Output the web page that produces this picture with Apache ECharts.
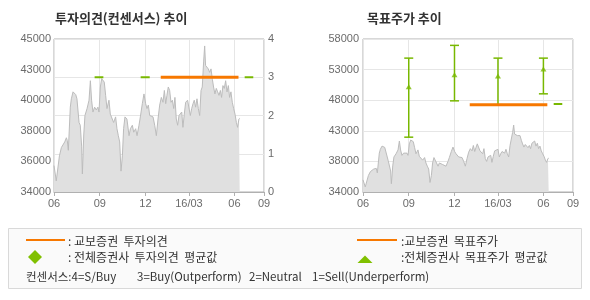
<!DOCTYPE html>
<html><head><meta charset="utf-8">
<script src="https://cdn.jsdelivr.net/npm/echarts@6/dist/echarts.min.js"></script>
<style>html,body{margin:0;padding:0;background:#fff}#c{width:590px;height:300px}</style>
</head><body><div id="c"></div>
<script>
// ---- data ----
const xTickValues = [0, 3.03, 6.06, 8.94, 11.95, 13.91];
const xTickLabels = ['06', '09', '12', '16/03', '06', '09'];
const leftYTickLabels = ['34000', '36000', '38000', '40000', '43000', '45000'];
const rightYTickLabels = ['34000', '38000', '43000', '48000', '53000', '58000'];
const opinionTickLabels = ['0', '1', '2', '3', '4'];

// stock price (x in months since 2015-06 on the chart axis)
const priceMonths = [0.00,0.08,0.15,0.27,0.36,0.49,0.60,0.71,0.82,0.88,0.95,1.04,1.08,1.15,1.26,1.37,1.44,1.52,1.66,1.74,1.83,1.88,1.97,2.05,2.19,2.32,2.41,2.49,2.58,2.69,2.80,2.91,2.98,3.07,3.16,3.25,3.33,3.42,3.51,3.64,3.73,3.86,3.95,4.08,4.17,4.26,4.35,4.44,4.53,4.61,4.70,4.83,4.97,5.06,5.19,5.28,5.41,5.50,5.63,5.72,5.85,5.96,6.07,6.16,6.25,6.34,6.45,6.56,6.67,6.78,6.89,7.00,7.11,7.22,7.31,7.40,7.48,7.57,7.66,7.75,7.84,7.93,8.01,8.10,8.19,8.28,8.37,8.46,8.54,8.63,8.72,8.85,8.94,9.03,9.12,9.21,9.29,9.38,9.47,9.56,9.65,9.74,9.82,9.91,9.98,10.04,10.13,10.22,10.31,10.40,10.49,10.57,10.66,10.75,10.84,10.93,11.02,11.10,11.19,11.28,11.37,11.46,11.55,11.63,11.72,11.81,11.90,11.99,12.08,12.16,12.25,12.30];
const priceValues = [35900,36000,34800,34700,36600,37200,37300,37600,37900,37700,37000,37100,40100,40700,41200,41200,41000,40700,39000,38800,37300,35300,38100,39500,40000,40600,42000,40600,39750,40100,39900,40100,39750,41550,42150,42250,41900,40950,40000,40600,39600,39500,39000,39400,38550,38050,37600,35500,36600,38550,39400,39250,38050,38550,38800,38300,38550,38050,38800,39400,40350,41050,40350,40000,40250,39500,39600,39400,38800,38050,39250,40250,40800,40450,41300,40350,40950,41550,41300,40450,40600,40000,40800,39250,38800,39500,39400,39750,38650,39600,40450,40600,40700,39500,40000,40350,40600,40100,40700,40000,39500,41300,41550,43350,44500,43100,43000,42850,42600,42850,42100,41550,41050,41450,41200,40950,41300,40800,41650,41450,42000,41200,41650,40800,41200,40450,40000,39600,39000,38650,39250,39300];

// 교보증권 투자의견 (opinion scale 0-4)
const kyoboOpinionStart = 7.07, kyoboOpinionEnd = 12.22, kyoboOpinion = 3;
// 전체증권사 투자의견 평균값 segments: [start, end, value]
const avgOpinionStart = [2.69, 5.74, 12.63];
const avgOpinionEnd = [3.27, 6.34, 13.20];
const avgOpinionValue = [3, 3, 3];

// 교보증권 목표주가
const kyoboTargetStart = 7.07, kyoboTargetEnd = 12.21, kyoboTarget = 47700;
// 전체증권사 목표주가: position, low, high, average
const targetX = [3.03, 6.06, 8.94, 11.95];
const targetLow = [42600, 48300, 47700, 49400];
const targetHigh = [55000, 57000, 55000, 55000];
const targetAvg = [50500, 52400, 52200, 53300];
// short average target mark on the right end
const lastAvgTargetStart = 12.63, lastAvgTargetEnd = 13.20, lastAvgTarget = 47800;

// legend footnote pieces
const footnoteParts = ['컨센서스:4=S/Buy', '3=Buy(Outperform)', '2=Neutral', '1=Sell(Underperform)'];
const footnoteX = [26, 137, 249, 312];

// ---- styling ----
const ORANGE = '#f77800';
const GREEN = '#78b800';
const GRID_LINE = '#e6e6e6';
const BORDER = '#b0b0b0';
const LABEL = '#6b6b6b';
const NUMFONT = 'Liberation Sans, Arial, sans-serif';
const KFONT = '"Noto Sans CJK KR", sans-serif';

const priceData = priceMonths.map((m, i) => [m, priceValues[i]]);
const avgOpinionData = avgOpinionStart.map((s, i) => [s, avgOpinionEnd[i], avgOpinionValue[i]]);
const errData = targetX.map((x, i) => [x, targetLow[i], targetHigh[i]]);
const avgTriData = targetX.map((x, i) => [x, targetAvg[i]]);

function xAxisCfg(gi) {
  return {
    type: 'value', gridIndex: gi, min: 0, max: xTickValues[xTickValues.length - 1],
    axisLine: { show: true, lineStyle: { color: BORDER } },
    axisTick: { show: true, length: 4, lineStyle: { color: BORDER }, customValues: xTickValues },
    axisLabel: {
      customValues: xTickValues, color: LABEL, fontSize: 11, fontFamily: NUMFONT, margin: 6,
      showMinLabel: true, showMaxLabel: true,
      formatter: v => { let i = 0, d = 1e9; xTickValues.forEach((t, k) => { if (Math.abs(t - v) < d) { d = Math.abs(t - v); i = k; } }); return xTickLabels[i]; }
    },
    splitLine: { show: true, lineStyle: { color: GRID_LINE } }
  };
}

function segItem(color, width) {
  return function (params, api) {
    const p0 = api.coord([api.value(0), api.value(2)]);
    const p1 = api.coord([api.value(1), api.value(2)]);
    return { type: 'line', shape: { x1: p0[0], y1: p0[1], x2: p1[0], y2: p1[1] }, style: { stroke: color, lineWidth: width } };
  };
}

function errItem(params, api) {
  const x = api.value(0);
  const lo = api.coord([x, api.value(1)]);
  const hi = api.coord([x, api.value(2)]);
  const hw = 4.5;
  const st = { stroke: GREEN, lineWidth: 1.5 };
  return { type: 'group', children: [
    { type: 'line', shape: { x1: lo[0], y1: lo[1], x2: hi[0], y2: hi[1] }, style: st },
    { type: 'line', shape: { x1: hi[0] - hw, y1: hi[1], x2: hi[0] + hw, y2: hi[1] }, style: st },
    { type: 'line', shape: { x1: lo[0] - hw, y1: lo[1], x2: lo[0] + hw, y2: lo[1] }, style: st }
  ]};
}

const chart = echarts.init(document.getElementById('c'), null, { renderer: 'canvas' });
const graphics = [
  { type: 'text', left: 55, top: 12, style: { text: '투자의견(컨센서스) 추이', font: 'bold 13px ' + KFONT, fill: '#333' } },
  { type: 'text', left: 367, top: 12, style: { text: '목표주가 추이', font: 'bold 13px ' + KFONT, fill: '#333' } },
  { type: 'rect', shape: { x: 8.5, y: 228.5, width: 573, height: 60 }, style: { fill: '#fafafa', stroke: '#d9d9d9', lineWidth: 1 } },
  { type: 'line', shape: { x1: 26, y1: 240, x2: 65, y2: 240 }, style: { stroke: ORANGE, lineWidth: 2 } },
  { type: 'text', x: 68, y: 241, style: { text: ': 교보증권  투자의견', font: '12px ' + KFONT, fill: '#333', textVerticalAlign: 'middle' } },
  { type: 'polygon', shape: { points: [[35, 250], [42, 257], [35, 264], [28, 257]] }, style: { fill: '#80c000' } },
  { type: 'text', x: 68, y: 257.5, style: { text: ': 전체증권사  투자의견  평균값', font: '12px ' + KFONT, fill: '#333', textVerticalAlign: 'middle' } },
  { type: 'line', shape: { x1: 357, y1: 240, x2: 397, y2: 240 }, style: { stroke: ORANGE, lineWidth: 2 } },
  { type: 'text', x: 401, y: 241, style: { text: ':교보증권  목표주가', font: '12px ' + KFONT, fill: '#333', textVerticalAlign: 'middle' } },
  { type: 'polygon', shape: { points: [[357.5, 263], [372.5, 263], [365, 255.5]] }, style: { fill: '#80c000' } },
  { type: 'text', x: 401, y: 257.5, style: { text: ':전체증권사  목표주가  평균값', font: '12px ' + KFONT, fill: '#333', textVerticalAlign: 'middle' } }
];
footnoteParts.forEach((t, i) => graphics.push({ type: 'text', x: footnoteX[i], y: 276.5,
  style: { text: t, font: '11.5px ' + KFONT, fill: '#333', textVerticalAlign: 'middle' } }));

const option = {
  animation: false,
  backgroundColor: '#fff',
  grid: [
    { left: 54, top: 39, width: 210, height: 153, show: true, borderColor: BORDER, borderWidth: 1, backgroundColor: '#fff' },
    { left: 363, top: 39, width: 210, height: 153, show: true, borderColor: BORDER, borderWidth: 1, backgroundColor: '#fff' }
  ],
  xAxis: [xAxisCfg(0), xAxisCfg(1)],
  yAxis: [
    { type: 'value', gridIndex: 0, min: 34000, max: 45000, interval: 2200,
      axisLine: { show: false }, axisTick: { show: false }, splitLine: { show: false },
      axisLabel: { color: LABEL, fontSize: 11, fontFamily: NUMFONT, margin: 3,
        formatter: v => leftYTickLabels[Math.round((v - 34000) / 2200)] } },
    { type: 'value', gridIndex: 0, position: 'right', min: 0, max: 4, interval: 1,
      axisLine: { show: false }, axisTick: { show: false },
      splitLine: { show: true, lineStyle: { color: GRID_LINE } },
      axisLabel: { color: LABEL, fontSize: 11, fontFamily: NUMFONT, margin: 4,
        formatter: v => opinionTickLabels[Math.round(v)] } },
    { type: 'value', gridIndex: 1, min: 34000, max: 58000, interval: 4800,
      axisLine: { show: false }, axisTick: { show: false },
      splitLine: { show: true, lineStyle: { color: GRID_LINE } },
      axisLabel: { color: LABEL, fontSize: 11, fontFamily: NUMFONT, margin: 4,
        formatter: v => rightYTickLabels[Math.round((v - 34000) / 4800)] } }
  ],
  series: [
    { type: 'line', xAxisIndex: 0, yAxisIndex: 0, data: priceData, symbol: 'none', z: 2,
      lineStyle: { color: '#bcbcbc', width: 1 }, areaStyle: { color: '#e0e0e0', opacity: 1, origin: 'start' } },
    { type: 'custom', xAxisIndex: 0, yAxisIndex: 1, data: avgOpinionData, encode: { x: [0, 1], y: 2 },
      renderItem: segItem(GREEN, 2), z: 3 },
    { type: 'line', xAxisIndex: 0, yAxisIndex: 1, symbol: 'none', z: 4,
      data: [[kyoboOpinionStart, kyoboOpinion], [kyoboOpinionEnd, kyoboOpinion]],
      lineStyle: { color: ORANGE, width: 3 } },

    { type: 'line', xAxisIndex: 1, yAxisIndex: 2, data: priceData, symbol: 'none', z: 2,
      lineStyle: { color: '#bcbcbc', width: 1 }, areaStyle: { color: '#e0e0e0', opacity: 1, origin: 'start' } },
    { type: 'custom', xAxisIndex: 1, yAxisIndex: 2, data: errData, encode: { x: 0, y: [1, 2] },
      renderItem: errItem, z: 3 },
    { type: 'scatter', xAxisIndex: 1, yAxisIndex: 2, data: avgTriData, symbol: 'triangle', symbolSize: [6, 5],
      itemStyle: { color: GREEN }, z: 5 },
    { type: 'line', xAxisIndex: 1, yAxisIndex: 2, symbol: 'none', z: 4,
      data: [[kyoboTargetStart, kyoboTarget], [kyoboTargetEnd, kyoboTarget]],
      lineStyle: { color: ORANGE, width: 3 } },
    { type: 'custom', xAxisIndex: 1, yAxisIndex: 2, data: [[lastAvgTargetStart, lastAvgTargetEnd, lastAvgTarget]],
      encode: { x: [0, 1], y: 2 }, renderItem: segItem(GREEN, 2), z: 3 }
  ],
  graphic: graphics
};
chart.setOption(option);
</script></body></html>
